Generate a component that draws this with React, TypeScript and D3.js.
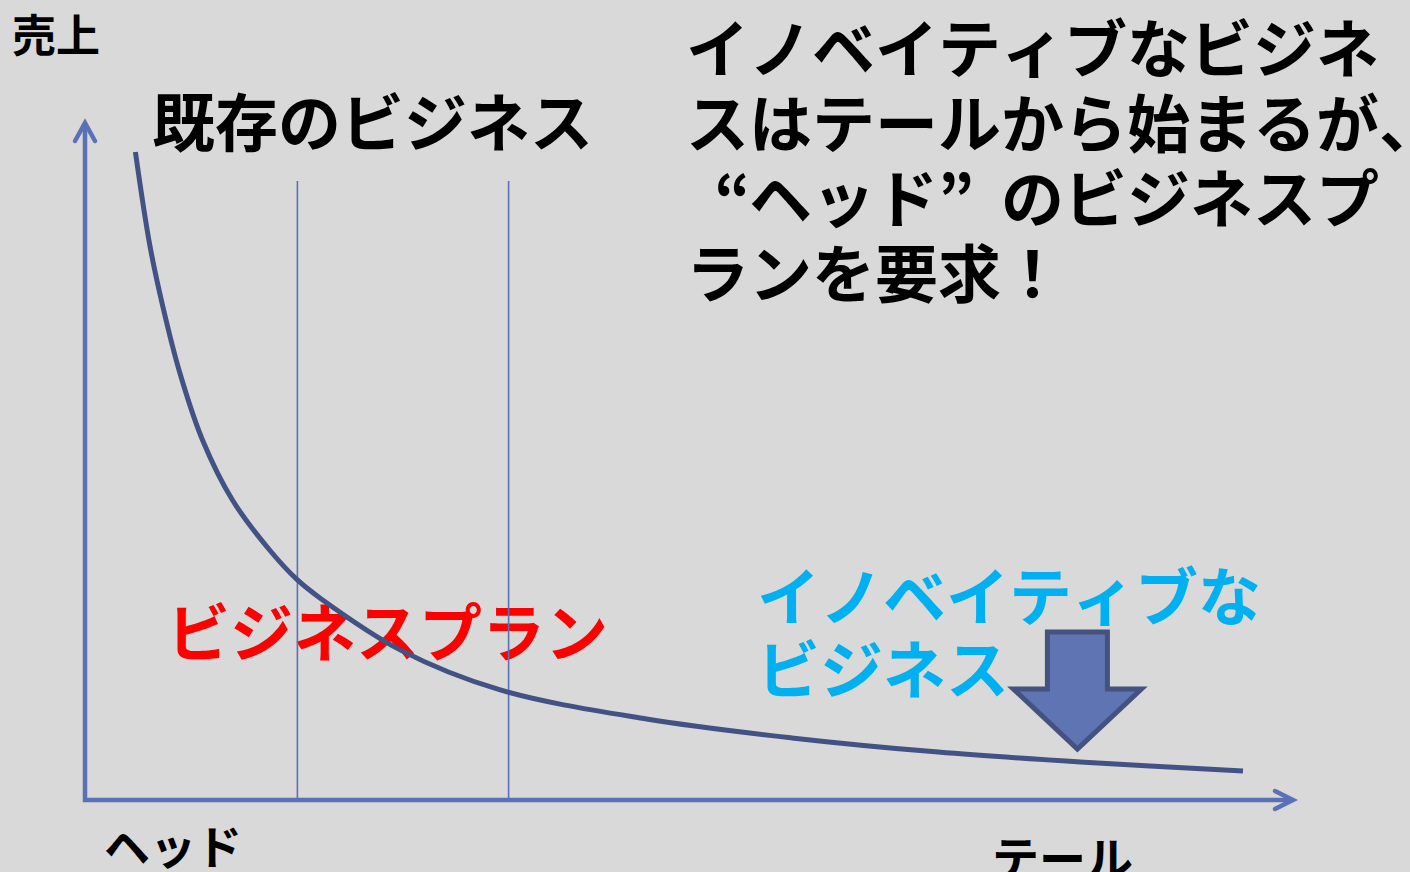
import React from "react";
import * as d3 from "d3";

// ---- data ----
const rank = [4.2, 5.4, 6.5, 7.9, 9.8, 12.3, 15.4, 17.7, 19.6, 26.3, 34.6, 46.8, 58.9, 71.1, 83.3, 96.5];
const sales = [96, 82.2, 73, 63.3, 53.3, 44.4, 37, 32.6, 29.9, 22.2, 16.3, 12.0, 9.2, 7.1, 5.6, 4.3];
const dividers = [17.7, 35.3];
const dividerTop = 91.7;
const arrowRank = 82.7;

const yAxisLabel = "売上";
const headLabel = "ヘッド";
const tailLabel = "テール";
const existingLabel = "既存のビジネス";
const planLabel = "ビジネスプラン";
const innovLines = ["イノベイティブな", "ビジネス"];
const noteLines = [
  "イノベイティブなビジネ",
  "スはテールから始まるが、",
  "“ヘッド”のビジネスプ",
  "ランを要求！",
];

const W = 1410;
const H = 872;
const FONT = "'Noto Sans CJK JP', 'Noto Sans', sans-serif";

const x = d3.scaleLinear().domain([0, 100]).range([85, 1285]);
const y = d3.scaleLinear().domain([0, 100]).range([800, 125]);

// text laid out on a full-width grid
function GridText(props: { text: string; x0: number; y: number; size: number; fill: string }) {
  const chars = Array.from(props.text);
  const xs = chars
    .map((c, i) => props.x0 + i * props.size + (c === "“" ? props.size * 0.45 : 0))
    .join(" ");
  return (
    <text
      x={xs}
      y={props.y}
      fontSize={props.size}
      fontFamily={FONT}
      fontWeight={700}
      fill={props.fill}
    >
      {props.text}
    </text>
  );
}

export default function App() {
  const pts = rank.map((r, i) => [x(r), y(sales[i])] as [number, number]);
  const line = d3.line().curve(d3.curveCatmullRom.alpha(0.5))(pts) || "";

  const axisColor = "#5a72b5";
  const curveColor = "#435284";

  const ax = x(arrowRank);
  const shaftHalf = 30;
  const headHalf = 64;
  const top = 632;
  const shoulder = 689;
  const tip = 749;
  const arrowPath = [
    [ax - shaftHalf, top],
    [ax + shaftHalf, top],
    [ax + shaftHalf, shoulder],
    [ax + headHalf, shoulder],
    [ax, tip],
    [ax - headHalf, shoulder],
    [ax - shaftHalf, shoulder],
  ]
    .map((p, i) => (i === 0 ? "M" : "L") + p[0] + "," + p[1])
    .join("") + "Z";

  const x0 = x(0);
  const y0 = y(0);
  const xEnd = 1293;
  const yTop = 123;

  return (
    <svg
      width={W}
      height={H}
      style={{ position: "fixed", left: 0, top: 0, background: "#d9d9d9" }}
    >
      <rect x={0} y={0} width={W} height={H} fill="#d9d9d9" />

      {/* texts */}
      <GridText text={yAxisLabel} x0={12} y={52} size={44} fill="#000" />
      <GridText text={existingLabel} x0={152} y={146} size={63} fill="#000" />
      {noteLines.map((t, i) => (
        <GridText key={i} text={t} x0={686} y={72 + i * 75} size={63} fill="#000" />
      ))}
      <GridText text={planLabel} x0={167} y={656} size={63} fill="#ff0000" />
      {innovLines.map((t, i) => (
        <GridText key={i} text={t} x0={757} y={620 + i * 73} size={63} fill="#00b0f0" />
      ))}
      <GridText text={headLabel} x0={104} y={864} size={46} fill="#000" />
      <GridText text={tailLabel} x0={992} y={876} size={47} fill="#000" />

      {/* divider lines */}
      {dividers.map((d, i) => (
        <line
          key={i}
          x1={x(d)}
          x2={x(d)}
          y1={y(dividerTop)}
          y2={y0}
          stroke={axisColor}
          strokeWidth={1.6}
        />
      ))}

      {/* axes */}
      <path
        d={`M${x0},${yTop + 2}L${x0},${y0}L${xEnd - 2},${y0}`}
        fill="none"
        stroke={axisColor}
        strokeWidth={4.5}
        strokeLinejoin="miter"
      />
      <path
        d={`M${x0 - 10},${yTop + 18}L${x0},${yTop}L${x0 + 10},${yTop + 18}`}
        fill="none"
        stroke={axisColor}
        strokeWidth={4.5}
        strokeLinecap="round"
        strokeLinejoin="miter"
      />
      <path
        d={`M${xEnd - 18},${y0 - 9}L${xEnd},${y0}L${xEnd - 18},${y0 + 9}`}
        fill="none"
        stroke={axisColor}
        strokeWidth={4.5}
        strokeLinecap="round"
        strokeLinejoin="miter"
      />

      {/* long-tail curve */}
      <path d={line} fill="none" stroke={curveColor} strokeWidth={5} strokeLinecap="butt" />

      {/* arrow */}
      <path d={arrowPath} fill="#5e74b3" stroke="#44527f" strokeWidth={5} strokeLinejoin="miter" />
    </svg>
  );
}
